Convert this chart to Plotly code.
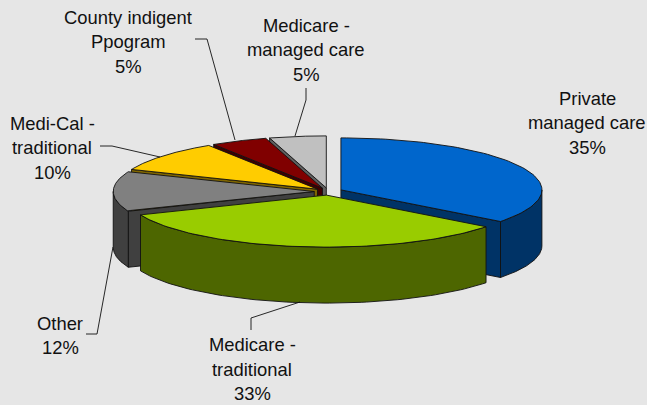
import numpy as np
import plotly.graph_objects as go

# Data, in the order the pie runs clockwise from 12 o'clock
categories = ["Private managed care", "Medicare - traditional", "Other",
              "Medi-Cal - traditional", "County indigent Ppogram", "Medicare - managed care"]
values = [35.4, 33.4, 12.4, 9.7, 4.55, 4.55]
label_lines = [["Private", "managed care"], ["Medicare -", "traditional"], ["Other"],
               ["Medi-Cal -", "traditional"], ["County indigent", "Ppogram"], ["Medicare -", "managed care"]]
top_colors = ["#0066CC", "#99CC00", "#808080", "#FFCC00", "#800000", "#C0C0C0"]
wall_colors = ["#003366", "#4D6600", "#404040", "#806600", "#400000", "#606060"]

# Style and projection of the drawn pie (pixel-scale axes)
BG = "#E6E6E6"
EDGE = "#111111"
CX, CY, RX, RY, DEPTH, EXPLODE = 328.3, 191.5, 201, 52, 56, 0.07
draw_order = [5, 4, 3, 2, 0, 1]  # back to front
label_anchor = [(587, 98), (252, 344.5), (60, 323), (52, 123), (128, 17), (306, 25)]
LINE_STEP = 24.5
leaders = {
    1: [(251, 330), (251, 318), (300, 302)],
    2: [(86, 334), (97, 334), (113, 247)],
    3: [(100, 146), (112, 146), (160, 157)],
    4: [(195, 39), (207, 39), (235, 140)],
    5: [(306, 88), (306, 100), (295, 136)],
}

fig = go.Figure()


def poly(xs, ys, color):
    fig.add_trace(go.Scatter(x=xs, y=ys, mode="lines", fill="toself", fillcolor=color,
                             line=dict(color=EDGE, width=0.9), hoverinfo="skip", showlegend=False))


total = sum(values)
edges = np.concatenate([[0], np.cumsum(values)]) / total * 2 * np.pi
for i in draw_order:
    s, e = edges[i], edges[i + 1]
    mid = (s + e) / 2
    cx = CX + EXPLODE * RX * np.sin(mid)
    cy = CY - EXPLODE * RY * np.cos(mid)
    t = np.linspace(s, e, 80)
    ax = cx + RX * np.sin(t)
    ay = cy - RY * np.cos(t)

    # radial walls that face the viewer
    for ang, visible in ((e, np.sin(e) > 0), (s, np.sin(s) < 0)):
        if visible:
            px, py = cx + RX * np.sin(ang), cy - RY * np.cos(ang)
            poly([cx, px, px, cx, cx], [cy, py, py + DEPTH, cy + DEPTH, cy], wall_colors[i])

    # outer wall: the part of the arc on the near side
    lo, hi = max(s, np.pi / 2), min(e, 3 * np.pi / 2)
    if lo < hi:
        w = np.linspace(lo, hi, 80)
        wx = cx + RX * np.sin(w)
        wy = cy - RY * np.cos(w)
        poly(np.r_[wx, wx[::-1], wx[0]], np.r_[wy, wy[::-1] + DEPTH, wy[0]], wall_colors[i])

    # top face
    poly(np.r_[cx, ax, cx], np.r_[cy, ay, cy], top_colors[i])

annotations = []
for i, lines in enumerate(label_lines):
    x0, y0 = label_anchor[i]
    for k, txt in enumerate(lines + [f"{round(values[i])}%"]):
        annotations.append(dict(x=x0, y=y0 + k * LINE_STEP, xref="x", yref="y", text=txt,
                                showarrow=False, xanchor="center", yanchor="middle",
                                font=dict(family="Liberation Sans, Arial", size=18.4, color="#111111")))

shapes = []
for pts in leaders.values():
    for (x1, y1), (x2, y2) in zip(pts[:-1], pts[1:]):
        shapes.append(dict(type="line", x0=x1, y0=y1, x1=x2, y1=y2, xref="x", yref="y",
                           line=dict(color="#111111", width=0.9)))

fig.update_layout(
    width=647, height=405, margin=dict(l=0, r=0, t=0, b=0),
    paper_bgcolor=BG, plot_bgcolor=BG, showlegend=False,
    xaxis=dict(range=[0, 647], visible=False, fixedrange=True),
    yaxis=dict(range=[405, 0], visible=False, fixedrange=True),
    annotations=annotations, shapes=shapes,
)
fig.write_html("out.html", config={"displayModeBar": False},
               post_script="document.body.style.margin='0';document.body.style.overflow='hidden';"
                           "document.body.style.background='" + BG + "';")
